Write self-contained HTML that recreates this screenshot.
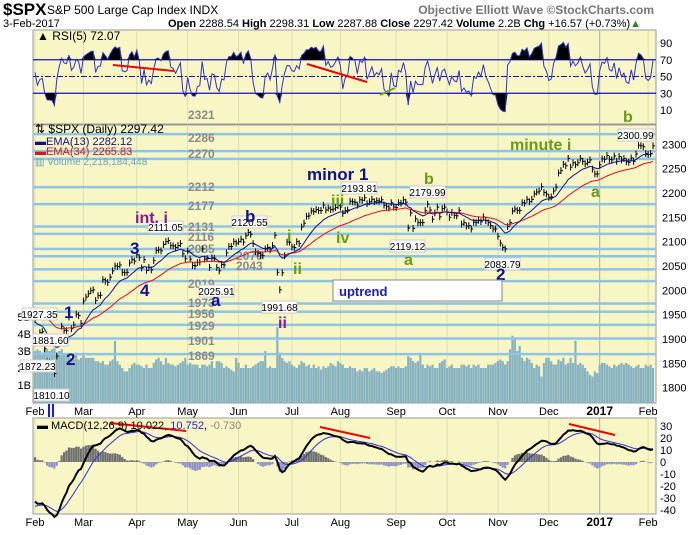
<!DOCTYPE html>
<html><head><meta charset="utf-8"><style>
body{margin:0;background:#fff;font-family:"Liberation Sans",sans-serif}
svg text{font-family:"Liberation Sans",sans-serif}
</style></head><body>
<svg id="c" width="700" height="530" viewBox="0 0 700 530" xmlns="http://www.w3.org/2000/svg">
<text x="3" y="15" font-size="17" font-weight="bold">$SPX</text>
<text x="47" y="14" font-size="12">S&amp;P 500 Large Cap Index  INDX</text>
<text x="654" y="14" font-size="12" font-weight="bold" fill="#777" text-anchor="end">Objective Elliott Wave ©StockCharts.com</text>
<text x="3" y="27" font-size="11">3-Feb-2017</text>
<text x="168" y="27" font-size="11"><tspan font-weight="bold">Open</tspan> 2288.54 <tspan font-weight="bold">High</tspan> 2298.31 <tspan font-weight="bold">Low</tspan> 2287.88 <tspan font-weight="bold">Close</tspan> 2297.42 <tspan font-weight="bold">Volume</tspan> 2.2B <tspan font-weight="bold">Chg</tspan> +16.57 (+0.73%)<tspan fill="#2a8a2a">▲</tspan></text>
<g id="rsi"></g>
<g id="main"></g>
<g id="macd"></g>
</svg>
<script>
const closes = [
1940,1903,1913,1915,1880,1853,1852,1851,1829,1865,1895,1926,1918,1917,1945,1921,1929,1951,1948,1932,
1978,1986,1993,1999,2001,1979,1989,1990,2022,2019,2016,2027,2040,2050,2049,2052,2037,2036,2037,2056,2063,2060,
2073,2067,2046,2063,2041,2047,2042,2061,2082,2083,2081,2094,2100,2102,2092,2091,2088,2092,2096,2075,2065,
2081,2064,2051,2050,2057,2058,2085,2064,2065,2047,2067,2066,2047,2040,2053,2052,2077,2090,2090,2100,2097,
2100,2105,2099,2112,2119,2115,2096,2079,2076,2072,2071,2085,2088,2083,2092,2113,2037,2001,2036,2071,2099,2099,
2089,2088,2100,2096,2130,2138,2152,2153,2163,2162,2166,2164,2164,2175,2165,2169,2166,2167,2170,2174,
2171,2158,2164,2165,2183,2182,2181,2175,2186,2185,2190,2178,2182,2187,2182,2184,2183,2186,2175,2172,2169,2180,2171,
2170,2180,2179,2186,2181,2128,2159,2127,2147,2139,2139,2139,2164,2177,2165,2146,2159,2171,2151,2168,2171,
2161,2150,2160,2154,2153,2164,2136,2139,2132,2133,2126,2140,2139,2144,2141,2151,2143,2139,2133,2126,2126,
2111,2097,2088,2085,2131,2139,2163,2167,2164,2164,2180,2179,2187,2182,2187,2198,2202,2204,2213,2201,2198,
2191,2192,2204,2212,2241,2246,2259,2256,2271,2253,2262,2258,2262,2271,2265,2260,2263,2268,2249,2239,2239,
2258,2270,2269,2277,2269,2268,2276,2265,2275,2268,2271,2264,2263,2272,2265,2280,2298,2297,2295,2281,
2279,2281,2297];
const volumes = [
3.0,3.1,3.0,2.9,3.1,3.1,3.0,3.1,3.2,2.9,3.0,3.1,2.8,2.8,2.7,2.6,2.5,2.9,2.5,2.6,
2.8,2.6,2.6,2.6,2.6,2.4,2.4,2.3,2.4,2.2,2.2,2.4,2.5,3.6,2.4,2.2,2.0,1.8,1.8,2.0,2.2,2.3,
2.2,2.2,2.1,2.0,2.2,2.0,2.0,2.3,2.5,2.6,2.4,2.2,2.6,2.3,2.2,2.2,2.1,2.2,2.3,2.4,2.6,
2.2,2.3,2.2,2.2,2.2,2.0,2.2,2.2,2.1,2.2,2.4,2.0,2.4,2.4,2.3,2.0,2.1,2.0,1.9,1.8,2.6,
2.3,2.0,2.0,2.2,2.0,2.0,2.1,2.2,2.3,2.4,2.4,3.0,2.0,2.1,2.0,2.0,4.4,2.9,2.6,2.4,2.3,2.4,
2.2,2.1,2.0,2.2,2.4,2.3,2.1,2.2,2.0,2.2,2.0,2.1,1.9,2.1,2.0,2.1,2.3,2.2,2.1,2.4,
2.3,2.2,2.0,2.0,2.1,2.0,2.0,1.8,1.9,1.8,2.0,2.0,1.8,1.9,2.0,1.8,1.8,1.7,1.8,1.9,2.0,2.1,2.1,
2.0,2.1,2.0,2.0,2.1,2.7,2.6,2.4,2.3,2.4,2.9,2.2,2.0,2.2,2.1,2.2,2.0,2.0,2.3,2.4,2.5,
2.0,2.1,2.2,2.0,2.0,2.0,2.2,2.2,2.1,2.2,2.0,2.2,2.1,2.2,2.0,2.0,2.0,2.2,2.2,2.2,2.3,
2.4,2.5,2.4,2.2,2.4,3.1,3.9,3.8,3.0,3.3,2.6,2.4,2.6,2.5,2.3,2.0,2.2,2.1,1.5,2.3,2.6,
2.6,2.4,2.2,2.2,2.5,2.4,2.6,2.2,2.3,2.6,2.3,3.6,2.2,2.3,2.2,2.0,1.8,1.6,1.5,1.8,1.7,
2.2,2.3,2.3,2.2,2.1,2.0,2.2,2.1,2.2,2.3,2.2,2.3,2.2,2.1,2.0,2.1,2.2,2.0,2.0,2.2,
2.1,2.2,2.0];
const monthLabels = ["Feb","Mar","Apr","May","Jun","Jul","Aug","Sep","Oct","Nov","Dec","2017","Feb"];
const monthStarts = [0,20,42,63,84,106,126,149,170,191,212,233,253];
const priceTicks = [1800,1850,1900,1950,2000,2050,2100,2150,2200,2250,2300];
const levelLines = [2321,2286,2270,2212,2177,2131,2116,2085,2070,2043,2019,1973,1956,1929,1901,1869];
const volTicks = [1,2,3,4,5];
const rsiTicks = [10,30,50,70,90];
const macdTicks = [-40,-30,-20,-10,0,10,20,30];

const NS="http://www.w3.org/2000/svg";
function mk(parent,tag,attrs,txt){const e=document.createElementNS(NS,tag);for(const k in attrs)e.setAttribute(k,attrs[k]);if(txt!==undefined)e.textContent=txt;parent.appendChild(e);return e;}
const L=33,R=656,BG="#f8f6c4";
const N=closes.length;
const xs=i=>35+i*(618/255);
const yP=p=>144.3+(2300-p)*0.4867;
const yV=v=>402-v*17;
const yR=r=>43+(90-r)*0.8375;
const yM=m=>462-m*1.2;

function ema(arr,n,seed){const k=2/(n+1);let e=seed;return arr.map(v=>(e=v*k+e*(1-k)));}
const ema13=ema(closes,13,1935), ema34=ema(closes,34,1962);
const e12=ema(closes,12,1958), e26=ema(closes,26,1992);
const macdLine=e12.map((v,i)=>v-e26[i]);
const signal=ema(macdLine,9,-38);
const hist=macdLine.map((v,i)=>v-signal[i]);
const rsi=[];{let ag=10,al=6;rsi.push(55);for(let i=1;i<N;i++){const d=closes[i]-closes[i-1];ag=(ag*4+Math.max(d,0))/5;al=(al*4+Math.max(-d,0))/5;rsi.push(100-100/(1+ag/(al||1e-6)));}}

function panel(g,top,bot,name){
  const r=mk(g,'rect',{x:L,y:top,width:R-L,height:bot-top,fill:BG,stroke:'#999'});
  
  monthStarts.forEach((m,i)=>{const l=mk(g,'line',{x1:xs(m),x2:xs(m),y1:top,y2:bot,stroke:monthLabels[i]==='2017'?'#aaa':'#e0ddb0','stroke-width':1});
    });
}
function xAxis(g,y){monthStarts.forEach((m,i)=>{const t=mk(g,'text',{x:xs(m),y:y,'font-size':monthLabels[i]==='2017'?12:11,'font-weight':monthLabels[i]==='2017'?'bold':'normal','text-anchor':'middle'},monthLabels[i]);
  });}
function poly(g,pts,attrs,name){const p=mk(g,'polyline',Object.assign({points:pts.map(a=>a[0].toFixed(1)+','+a[1].toFixed(1)).join(' '),fill:'none'},attrs));return p;}

/* RSI */
const gR=document.getElementById('rsi');
panel(gR,30,124,'rsi');
rsiTicks.forEach(t=>{const tx=mk(gR,'text',{x:660,y:yR(t)+4,'font-size':11},t);
  if(t===30||t===70){const l=mk(gR,'line',{x1:L,x2:R,y1:yR(t),y2:yR(t),stroke:'#1010c8','stroke-width':1.3});}
  if(t===50){const l=mk(gR,'line',{x1:L,x2:R,y1:yR(t),y2:yR(t),stroke:'#1010c8','stroke-dasharray':'6,2,2,2'});}});
{let hi='',lo='';for(let i=0;i<N;i++){const x=xs(i).toFixed(1);hi+=`L${x},${Math.min(yR(rsi[i]),yR(70)).toFixed(1)}`;lo+=`L${x},${Math.max(yR(rsi[i]),yR(30)).toFixed(1)}`;}
 const a=mk(gR,'path',{d:`M${xs(0)},${yR(70)}${hi}L${xs(N-1)},${yR(70)}Z`,fill:'#000'});
 const b=mk(gR,'path',{d:`M${xs(0)},${yR(30)}${lo}L${xs(N-1)},${yR(30)}Z`,fill:'#000'});}
poly(gR,rsi.map((v,i)=>[xs(i),yR(v)]),{stroke:'#3030d0','stroke-width':1},'rsi-line');
[[113,65,174,71,'#e00'],[307,64,367,82,'#e00'],[380,95,395,88,'#6a2']].forEach(d=>{const l=mk(gR,'line',{x1:d[0],y1:d[1],x2:d[2],y2:d[3],stroke:d[4],'stroke-width':2});});
{const t=mk(gR,'text',{x:37,y:40,'font-size':12},'▲ RSI(5) 72.07');}
{const t=mk(gR,'text',{x:188,y:119,'font-size':12,'font-weight':'bold',fill:'#8a8a8a'},'2321');}

/* MAIN */
const gM=document.getElementById('main');
panel(gM,125,403,'price');
volumes.forEach((v,i)=>{const r=mk(gM,'rect',{x:xs(i)-1.1,y:yV(v),width:2.2,height:403-yV(v),fill:'#86b2c2'});});
volTicks.forEach(t=>{const tx=mk(gM,'text',{x:31,y:yV(t)+4,'font-size':11,'text-anchor':'end'},t+'B');});
const labelPos={2286:[188,142],2270:[188,158],2212:[188,191],2177:[188,210],2131:[188,231],2116:[188,241],2085:[188,253],2070:[236,260],2043:[236,270],2019:[188,288],1973:[188,307],1956:[188,318],1929:[188,330],1901:[188,345],1869:[188,360]};
levelLines.forEach(p=>{const l=mk(gM,'line',{x1:L,x2:R,y1:yP(p),y2:yP(p),stroke:'#8cc4ea','stroke-width':2.5});
  if(labelPos[p]){const t=mk(gM,'text',{x:labelPos[p][0],y:labelPos[p][1],'font-size':12,'font-weight':'bold',fill:'#8a8a8a'},p);}});
priceTicks.forEach(p=>{const t=mk(gM,'text',{x:662,y:yP(p)+4,'font-size':11},p);});
closes.forEach((c,i)=>{const x=xs(i);const l=mk(gM,'line',{x1:x,x2:x,y1:yP(c+7),y2:yP(c-7),stroke:'#000','stroke-width':1});
  const tk=mk(gM,'line',{x1:x,x2:x+2,y1:yP(c),y2:yP(c),stroke:'#000','stroke-width':1});});
poly(gM,ema34.map((v,i)=>[xs(i),yP(v)]),{stroke:'#e01020','stroke-width':1},'ema34-line');
poly(gM,ema13.map((v,i)=>[xs(i),yP(v)]),{stroke:'#101090','stroke-width':1},'ema13-line');
const legend=[[133,'#000','⇅ $SPX (Daily) 2297.42',12],[145,'#101090','▬EMA(13) 2282.12',11],[155,'#e01020','▬EMA(34) 2265.83',11],[165,'#6aa6c8','▥ Volume 2,218,184,448',10]];
legend.forEach(d=>{const t=mk(gM,'text',{x:35,y:d[0],'font-size':d[3],fill:d[1]},d[2]);});
const boxes=[[148,221,'2111.05'],[232,216,'2120.55'],[199,285,'2025.91'],[262,301,'1991.68'],[22,308,'1927.35'],[33,334,'1881.60'],[20,360,'1872.23'],[34,389,'1810.10'],[342,182,'2193.81'],[410,186,'2179.99'],[390,240,'2119.12'],[485,258,'2083.79'],[618,129,'2300.99']];
boxes.forEach(b=>{const r=mk(gM,'rect',{x:b[0],y:b[1],width:35,height:12,fill:'#fff',stroke:'#ccc'});
  const t=mk(gM,'text',{x:b[0]+17.5,y:b[1]+10,'font-size':10,'text-anchor':'middle'},b[2]);});
const waves=[[135,223,'int. i','#8a1a8a',16],[130,254,'3','#101090',17],[140,296,'4','#101090',17],[64,318,'1','#101090',17],[66,365,'2','#101090',17],[211,306,'a','#101090',17],[245,222,'b','#101090',17],[278,328,'ii','#8a1a8a',16],[307,180,'minor 1','#101090',17],[331,206,'iii','#6a9a10',16],[336,243,'iv','#6a9a10',16],[287,241,'i','#6a9a10',16],[293,274,'ii','#6a9a10',16],[404,265,'a','#6a9a10',16],[424,184,'b','#6a9a10',16],[496,280,'2','#101090',17],[510,150,'minute i','#6a9a10',16],[591,197,'a','#6a9a10',16],[623,122,'b','#6a9a10',16]];
waves.forEach(w=>{const t=mk(gM,'text',{x:w[0],y:w[1],'font-size':w[4],'font-weight':'bold',fill:w[3]},w[2]);});
{const r=mk(gM,'rect',{x:333,y:280,width:169,height:21,fill:'#fff',stroke:'#888'});
 const t=mk(gM,'text',{x:339,y:296,'font-size':13,'font-weight':'bold',fill:'#1818d8'},'uptrend');}
xAxis(gM,415);
[49,53].forEach(x=>{const l=mk(gM,'rect',{x:x-1,y:404,width:2,height:13,fill:'#1a1af0'});});

/* MACD */
const gC=document.getElementById('macd');
panel(gC,418,514,'macd');
macdTicks.forEach(t=>{const tx=mk(gC,'text',{x:660,y:yM(t)+4,'font-size':11},t);});
hist.forEach((h,i)=>{const r=mk(gC,'rect',{x:xs(i)-1.1,y:Math.min(yM(h),yM(0)),width:2.2,height:Math.abs(yM(h)-yM(0)),fill:h>=0?'#707070':'#9090c8'});});
poly(gC,signal.map((v,i)=>[xs(i),yM(v)]),{stroke:'#3030e0','stroke-width':1},'macd-signal-line');
poly(gC,macdLine.map((v,i)=>[xs(i),yM(v)]),{stroke:'#000','stroke-width':2},'macd-line');
[[110,423,186,431],[320,427,370,438],[569,424,615,435]].forEach(d=>{const l=mk(gC,'line',{x1:d[0],y1:d[1],x2:d[2],y2:d[3],stroke:'#e00','stroke-width':2});});
{const t=mk(gC,'text',{x:37,y:429,'font-size':11},'');t.innerHTML='<tspan font-weight="bold">▬</tspan> MACD(12,26,9) 10.022, <tspan fill="#2020d0">10.752</tspan>, <tspan fill="#888">-0.730</tspan>';}
xAxis(gC,526);
</script>
</body></html>
